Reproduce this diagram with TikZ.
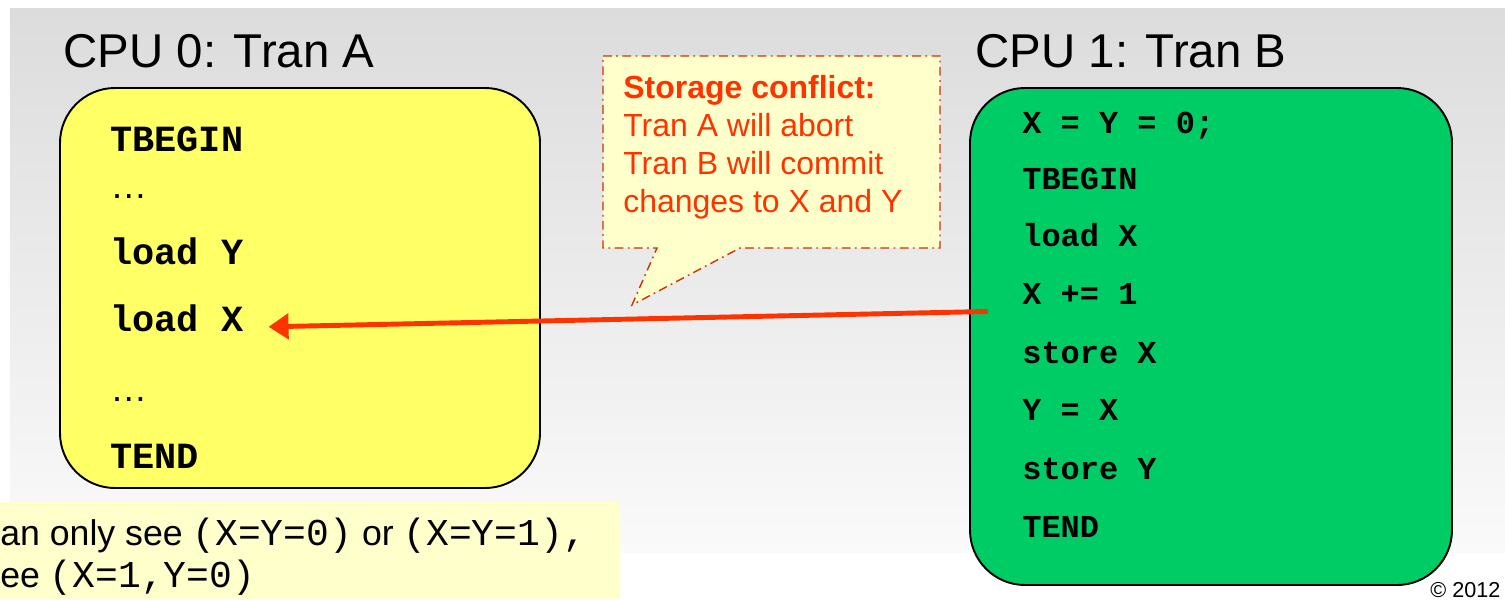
\documentclass[tikz,border=0pt]{standalone}
\usepackage{fontspec}
\setmainfont{Liberation Sans}
\setmonofont{Liberation Mono}
\usetikzlibrary{arrows.meta}
\definecolor{tranyellow}{RGB}{255, 255, 102}
\definecolor{trangreen}{RGB}{0, 204, 102}
\definecolor{notefill}{RGB}{255, 255, 204}
\definecolor{conflictred}{RGB}{255, 51, 0}
\definecolor{calloutedge}{RGB}{204, 51, 0}
\definecolor{bgtop}{RGB}{220, 220, 220}
\definecolor{bgbottom}{RGB}{250, 250, 250}

\begin{document}
\begin{tikzpicture}[x=0.02cm, y=-0.02cm,
  cpulabel/.style={anchor=base west, inner sep=0, font=\fontsize{27}{30}\selectfont},
  tranbox/.style={draw, line width=1.1pt, rounded corners=1.1cm},
  code/.style={anchor=base west, inner sep=0, font=\fontsize{21}{24}\selectfont\ttfamily\bfseries},
  codeb/.style={code, font=\fontsize{18.2}{21}\selectfont\ttfamily\bfseries},
  dots/.style={anchor=base west, inner sep=0, font=\fontsize{21}{24}\selectfont},
  conflict/.style={draw=conflictred, line width=2.8pt, -{Triangle[length=0.4cm, width=0.5cm]}},
  callout/.style={draw=calloutedge, fill=notefill, line width=0.8pt, dash pattern=on 5pt off 2.5pt on 1pt off 2.5pt}]
\useasboundingbox (0,0) rectangle (1505,599);

% slide background
\shade[top color=bgtop, bottom color=bgbottom] (10,8) rectangle (1505,552);

% CPU 0 running transaction A
\node[cpulabel] (cpua) at (63,67) {CPU 0: Tran A};
\draw[tranbox, fill=tranyellow] (60,88) rectangle (540,488);
\node[code] (a1) at (110,151) {TBEGIN};
\node[dots] (a2) at (110,198) {…};
\node[code] (a3) at (110,264) {load Y};
\node[code] (ax) at (110,331) {load X};
\node[dots] (a5) at (110,401) {…};
\node[code] (a6) at (110,468) {TEND};

% CPU 1 running transaction B
\node[cpulabel] (cpub) at (975,67) {CPU 1: Tran B};
\draw[tranbox, fill=trangreen] (970,88) rectangle (1452,585);
\node[codeb] (b1) at (1022,133) {X = Y = 0;};
\node[codeb] (b2) at (1022,189) {TBEGIN};
\node[codeb] (b3) at (1022,246) {load X};
\node[codeb] (bx) at (1022,304) {X += 1};
\node[codeb] (b5) at (1022,363) {store X};
\node[codeb] (b6) at (1022,420) {Y = X};
\node[codeb] (b7) at (1022,479) {store Y};
\node[codeb] (b8) at (1022,537) {TEND};

% conflicting access from B into A
\coordinate (src) at ([shift={(-34,18)}]bx.west);
\coordinate (hit) at ([shift={(25,9)}]ax.east);
\draw[conflict] (src) -- (hit);

% speech bubble
\draw[callout] (603,56) -- (940,56) -- (940,248) -- (740,248) -- (632,305) -- (657,248) -- (603,248) -- cycle;
\node[anchor=north west, inner sep=0, align=left, text=conflictred,
  font=\fontsize{18.2}{21.6}\selectfont] (msg) at (623,75)
  {\textbf{Storage conflict:}\\Tran A will abort\\Tran B will commit\\changes to X and Y};

% note at the bottom
\fill[notefill] (0,502) rectangle (620,599);
\node[anchor=north west, inner sep=0, align=left, font=\fontsize{20.3}{23.9}\selectfont] (note) at (0,518)
  {an only see {\fontsize{21.6}{23.9}\selectfont\ttfamily (X=Y=0)} or {\fontsize{21.6}{23.9}\selectfont\ttfamily (X=Y=1),}\\
   ee {\fontsize{21.6}{23.9}\selectfont\ttfamily (X=1,Y=0)}};

\node[anchor=base west, inner sep=0, font=\fontsize{12.3}{14}\selectfont] (copy) at (1430,597) {© 2012};
\end{tikzpicture}
\end{document}
